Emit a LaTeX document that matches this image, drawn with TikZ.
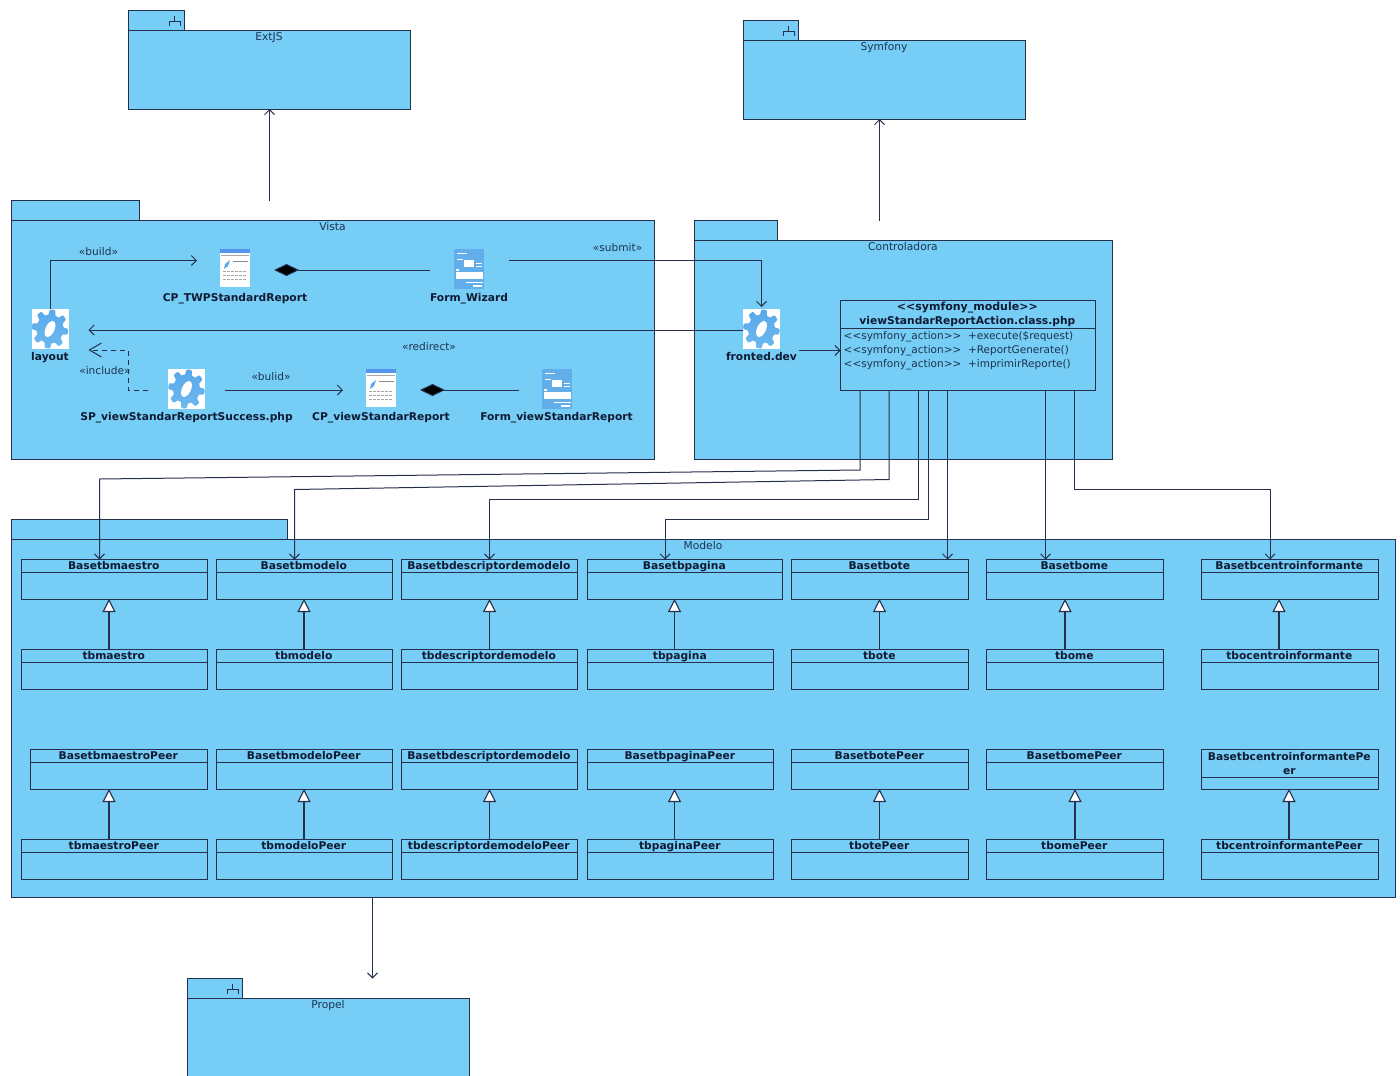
\documentclass[tikz,border=0pt]{standalone}
\usepackage{fontspec}
\setmainfont{DejaVu Sans}
\usetikzlibrary{arrows.meta,calc}
\definecolor{pkgblue}{HTML}{76CDF5}
\definecolor{ink}{HTML}{26304C}
\definecolor{txt}{HTML}{1E3350}
\definecolor{boldtxt}{HTML}{0F1A33}
\definecolor{gearblue}{HTML}{58A8EA}
\definecolor{gearlight}{HTML}{6DB9F0}
\definecolor{formblue}{HTML}{62AEEA}
\tikzset{
  pkgshape/.style={draw=ink,fill=pkgblue,line width=1pt,anchor=north west,inner sep=0pt,outer sep=0pt},
  classbox/.style={draw=ink,line width=1pt,anchor=north west,inner sep=0pt,outer sep=0pt},
  pkgtitle/.style={text=txt,font=\fontsize{10.7}{12}\selectfont,inner sep=0pt,text height=9pt,text depth=2pt},
  classtitle/.style={text=boldtxt,font=\fontsize{10.7}{14}\selectfont\bfseries,inner sep=0pt,align=center},
  singleline/.style={text height=10pt,text depth=1pt},
  iconlabel/.style={text=boldtxt,font=\fontsize{10.7}{12}\selectfont\bfseries,inner sep=0pt,text height=10pt,text depth=1pt},
  attr/.style={text=txt,font=\fontsize{10.5}{12}\selectfont,inner sep=0pt,anchor=west},
  stereo/.style={text=txt,font=\fontsize{10.6}{12}\selectfont,inner sep=0pt},
  iconbox/.style={inner sep=0pt,outer sep=0pt},
  conn/.style={draw=ink,line width=1pt},
  dep/.style={conn,-{Straight Barb[length=5pt,width=10pt,line width=1pt]}},
  inherit/.style={conn,line width=1.2pt,-{Triangle[open,fill=white,length=13pt,width=13pt,line width=1.1pt]}},
  comp/.style={conn,{Diamond[fill=black,length=25pt,width=12pt]}-},
  incl/.style={conn,dashed,dash pattern=on 5pt off 4pt,-{Straight Barb[length=12pt,width=14pt,line width=1pt]}},
}
\newcommand{\umlpkg}[8]{% name x0 y0 x1 y1 tabx1 taby0 title
  \node[pkgshape,minimum width={(#6-#2-.5)*1pt},minimum height={(#3-#7)*1pt}] (#1tab) at (#2,#7) {};
  \node[pkgshape,minimum width={(#4-#2-.5)*1pt},minimum height={(#5-#3-.5)*1pt}] (#1) at (#2,#3) {};
  \node[pkgtitle] (#1title) at ({(#2+#4)/2-.5},#3+6.5) {#8};
}
\newcommand{\forkmark}[2]{% x y of the centre top
  \draw[ink,line width=.8pt] (#1,#2) -- (#1,#2+6) (#1-5.5,#2+10) -- (#1-5.5,#2+6) -- (#1+5.5,#2+6) -- (#1+5.5,#2+10);
}
\newcommand{\umlclass}[7]{% name x0 y0 x1 y1 ysep title
  \node[classbox,minimum width={(#4-#2-.5)*1pt},minimum height={(#5-#3-.5)*1pt}] (#1) at (#2,#3) {};
  \draw[ink,line width=1pt] (#2,#6) -- (#4-.5,#6);
  \node[classtitle,singleline] (#1title) at ({(#2+#4)/2-.7},{(#3+#6)/2-.7}) {#7};
}
\newcommand{\umlclasstwo}[7]{% name x0 y0 x1 y1 ysep two-line title
  \node[classbox,minimum width={(#4-#2-.5)*1pt},minimum height={(#5-#3-.5)*1pt}] (#1) at (#2,#3) {};
  \draw[ink,line width=1pt] (#2,#6) -- (#4-.5,#6);
  \node[classtitle] (#1title) at ({(#2+#4)/2-.7},{(#3+#6)/2-.3}) {#7};
}
\newcommand{\gearicon}[5]{% name label labely cx cy
  \node[iconbox,fill=white,minimum width=37pt,minimum height=40pt] (#1) at (#4,#5) {};
  \shade[top color=gearblue,bottom color=gearlight,shift={(#4,#5)}] plot[domain=0:360,samples=145,smooth] ({(15.8+2.4*tanh(3*sin(8*\x+22)))*cos(\x)},{(17+2.6*tanh(3*sin(8*\x+22)))*sin(\x)}) -- cycle;
  \fill[white,shift={(#4,#5)},rotate=-25] (0,0) ellipse [x radius=4.5,y radius=8.5];
  \node[iconlabel] (#1label) at (#4,#3) {#2};
}
\newcommand{\pageicon}[5]{% name label labely cx cy : window page
  \node[iconbox,fill=white,minimum width=30pt,minimum height=38pt] (#1) at (#4,#5) {};
  \begin{scope}[shift={(#4,#5)}]
    \fill[formblue!85!blue] (-15,-19) rectangle (15,-15);
    \draw[black!35,line width=.5pt] (-14,-13) -- (14,-13);
    \fill[gearblue] (-10,-4) -- (-5,-8) -- (-7,-2) -- (-11,1) -- cycle;
    \draw[black!45,line width=.8pt] (-2,-7) -- (13,-7);
    \draw[black!35,line width=.7pt,dash pattern=on 3pt off 1pt] (-12,3) -- (12,3) (-12,7) -- (12,7) (-12,11) -- (12,11);
  \end{scope}
  \node[iconlabel] (#1label) at (#4,#3) {#2};
}
\newcommand{\formicon}[5]{% name label labely cx cy : form page
  \node[iconbox,fill=formblue,minimum width=30pt,minimum height=40pt] (#1) at (#4,#5) {};
  \begin{scope}[shift={(#4,#5)}]
    \draw[white,line width=.7pt] (-12,-16) -- (-2,-16) (-12,-10) -- (-6,-10) (7,-6) -- (13,-6) (7,-3) -- (13,-3);
    \fill[white] (-5,-9) rectangle (5,-2);
    \fill[white] (-13,3) rectangle (14,10);
    \fill[white] (-13,0) rectangle (-10,2);
    \draw[white,line width=.8pt] (-3,13) -- (14,13);
    \draw[white,line width=1.2pt] (4,17) -- (13,17);
  \end{scope}
  \node[iconlabel] (#1label) at (#4,#3) {#2};
}
\begin{document}
\begin{tikzpicture}[x=1pt,y=-1pt]
\useasboundingbox (-0.5,-0.5) rectangle (1399.5,1075.5);
\begin{scope}
\clip (-1,-1) rectangle (1401,1075.5);
% packages
\umlpkg{extjs}{128}{30}{410}{109}{184}{10}{ExtJS}
\forkmark{174}{15}
\umlpkg{symfony}{743}{40}{1025}{119}{798}{20}{Symfony}
\forkmark{788}{25}
\umlpkg{vista}{11}{220}{654}{459}{139}{200}{Vista}
\umlpkg{controladora}{694}{240}{1112}{459}{777}{220}{Controladora}
\umlpkg{modelo}{11}{539}{1395}{897}{287}{519}{Modelo}
\umlpkg{propel}{187}{998}{469}{1090}{242}{978}{Propel}
\forkmark{232}{983}
\end{scope}
% icons in Vista
\gearicon{layout}{layout}{355.5}{49.5}{328.5}
\pageicon{cptwp}{CP\_TWPStandardReport}{296}{234.5}{267.5}
\formicon{formwizard}{Form\_Wizard}{296}{468.5}{268.5}
\gearicon{sp}{SP\_viewStandarReportSuccess.php}{415}{186}{388.5}
\pageicon{cpview}{CP\_viewStandarReport}{415}{380.5}{387.5}
\formicon{formview}{Form\_viewStandarReport}{415}{556}{388.5}
\gearicon{fronted}{fronted.dev}{355.5}{761}{328.5}
% action class
\umlclasstwo{action}{840}{300}{1095}{390}{328}{\fontsize{11}{14}\selectfont <{}<symfony\_module>{}>\\viewStandarReportAction.class.php}
\node[attr] (attra) at (843,336.5) {<{}<symfony\_action>{}> \ +execute(\$request)};
\node[attr] (attrb) at (843,350.5) {<{}<symfony\_action>{}> \ +ReportGenerate()};
\node[attr] (attrc) at (843,364.5) {<{}<symfony\_action>{}> \ +imprimirReporte()};
% Vista connectors
\draw[dep] (layout.north) -- (layout.north |- 0,260) -- node[stereo,above,pos=.33,yshift=4pt] (lblbuild) {«build»} ([xshift=-23pt]cptwp.west |- 0,260);
\draw[comp] ([xshift=24pt]cptwp.east |- 0,269.5) -- ([xshift=-24pt]formwizard.west |- 0,269.5);
\draw[dep] ([xshift=25pt]formwizard.east |- 0,260) -- node[stereo,above,pos=.43,yshift=8pt] (lblsubmit) {«submit»} (fronted.north |- 0,260) -- ([yshift=2pt]fronted.north);
\draw[dep] (fronted.west |- 0,329.5) -- ([xshift=20pt]layout.east |- 0,329.5);
\node[stereo] (lblredirect) at (428.5,346) {«redirect»};
\draw[incl] ([xshift=-20pt]sp.west |- 0,389.5) -- (128,389.5) -- (128,349.5) -- ([xshift=20pt]layout.east |- 0,349.5);
\node[stereo] (lblinclude) at (104.5,370.5) {«include»};
\draw[dep] ([xshift=20pt]sp.east |- 0,389.5) -- node[stereo,above,pos=.39,yshift=9pt] (lblbulid) {«bulid»} ([xshift=-23pt]cpview.west |- 0,389.5);
\draw[comp] ([xshift=24pt]cpview.east |- 0,389.5) -- ([xshift=-23pt]formview.west |- 0,389.5);
\draw[dep] ([xshift=2pt]frontedlabel.east |- 0,350) -- (action.west |- 0,350);
% Package dependencies
\draw[dep] (269,0 |- vistatab.north) -- (269,0 |- extjs.south);
\draw[dep] (879,0 |- controladoratab.north) -- (879,0 |- symfony.south);
\draw[dep] (372,0 |- modelo.south) -- (372,0 |- propeltab.north);
% Modelo classes
\umlclass{bmaestro}{21}{559}{207}{599}{572}{Basetbmaestro}
\umlclass{bmodelo}{216}{559}{392}{599}{572}{Basetbmodelo}
\umlclass{bdescr}{401}{559}{577}{599}{572}{Basetbdescriptordemodelo}
\umlclass{bpagina}{587}{559}{782}{599}{572}{Basetbpagina}
\umlclass{bbote}{791}{559}{968}{599}{572}{Basetbote}
\umlclass{bbome}{986}{559}{1163}{599}{572}{Basetbome}
\umlclass{bcentro}{1201}{559}{1378}{599}{572}{Basetbcentroinformante}
\umlclass{tmaestro}{21}{649}{207}{689}{662}{tbmaestro}
\umlclass{tmodelo}{216}{649}{392}{689}{662}{tbmodelo}
\umlclass{tdescr}{401}{649}{577}{689}{662}{tbdescriptordemodelo}
\umlclass{tpagina}{587}{649}{773}{689}{662}{tbpagina}
\umlclass{tbote}{791}{649}{968}{689}{662}{tbote}
\umlclass{tbome}{986}{649}{1163}{689}{662}{tbome}
\umlclass{tcentro}{1201}{649}{1378}{689}{662}{tbocentroinformante}
\umlclass{pbmaestro}{30}{749}{207}{789}{762}{BasetbmaestroPeer}
\umlclass{pbmodelo}{216}{749}{392}{789}{762}{BasetbmodeloPeer}
\umlclass{pbdescr}{401}{749}{577}{789}{762}{Basetbdescriptordemodelo}
\umlclass{pbpagina}{587}{749}{773}{789}{762}{BasetbpaginaPeer}
\umlclass{pbbote}{791}{749}{968}{789}{762}{BasetbotePeer}
\umlclass{pbbome}{986}{749}{1163}{789}{762}{BasetbomePeer}
\umlclasstwo{pbcentro}{1201}{749}{1378}{789}{777}{BasetbcentroinformantePe\\er}
\umlclass{ptmaestro}{21}{839}{207}{879}{852}{tbmaestroPeer}
\umlclass{ptmodelo}{216}{839}{392}{879}{852}{tbmodeloPeer}
\umlclass{ptdescr}{401}{839}{577}{879}{852}{tbdescriptordemodeloPeer}
\umlclass{ptpagina}{587}{839}{773}{879}{852}{tbpaginaPeer}
\umlclass{ptbote}{791}{839}{968}{879}{852}{tbotePeer}
\umlclass{ptbome}{986}{839}{1163}{879}{852}{tbomePeer}
\umlclass{ptcentro}{1201}{839}{1378}{879}{852}{tbcentroinformantePeer}
% Generalisations
\foreach \cx/\kid/\parentc in {108.5/tmaestro/bmaestro,303.5/tmodelo/bmodelo,489/tdescr/bdescr,674/tpagina/bpagina,879/tbote/bbote,1064.5/tbome/bbome,1278.5/tcentro/bcentro,
  108.5/ptmaestro/pbmaestro,303.5/ptmodelo/pbmodelo,489/ptdescr/pbdescr,674/ptpagina/pbpagina,879/ptbote/pbbote,1074.5/ptbome/pbbome,1288.5/ptcentro/pbcentro}
  {\draw[inherit] (\cx,0 |- \kid.north) -- (\cx,0 |- \parentc.south);}
% Action class to the base classes
\draw[dep] (859.5,0 |- action.south) -- (859.5,469.5) -- (99,478.5) -- (99,0 |- bmaestro.north);
\draw[dep] (888.5,0 |- action.south) -- (888.5,479) -- (294,489) -- (294,0 |- bmodelo.north);
\draw[dep] (918,0 |- action.south) -- (918,499) -- (489,499) -- (489,0 |- bdescr.north);
\draw[dep] (927.5,0 |- action.south) -- (927.5,519) -- (664.5,519) -- (664.5,0 |- bpagina.north);
\draw[dep] (947,0 |- action.south) -- (947,0 |- bbote.north);
\draw[dep] (1045,0 |- action.south) -- (1045,0 |- bbome.north);
\draw[dep] (1074,0 |- action.south) -- (1074,489) -- (1269.5,489) -- (1269.5,0 |- bcentro.north);
\end{tikzpicture}
\end{document}
